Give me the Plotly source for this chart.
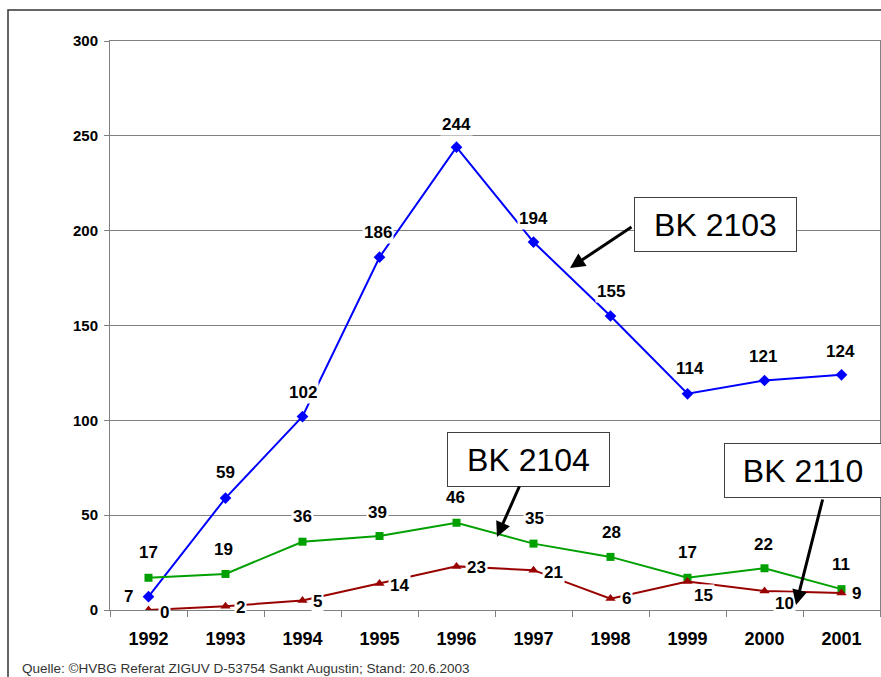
import plotly.graph_objects as go

# Berufskrankheiten-Faelle je Jahr
years = ["1992", "1993", "1994", "1995", "1996", "1997", "1998", "1999", "2000", "2001"]
bk2103 = [7, 59, 102, 186, 244, 194, 155, 114, 121, 124]
bk2104 = [17, 19, 36, 39, 46, 35, 28, 17, 22, 11]
bk2110 = [0, 2, 5, 14, 23, 21, 6, 15, 10, 9]
y_ticks = [0, 50, 100, 150, 200, 250, 300]

# label offsets (pixels) for the data labels
off_2103 = [(-20, 0), (0, 26), (0, 24), (-2, 25), (0, 23), (0, 24), (0, 25), (2, 25), (-2, 24), (-1, 23)]
off_2104 = [(0, 25), (-2, 24), (0, 25), (-2, 24), (-1, 25), (1, 25), (1, 24), (0, 25), (-1, 24), (-1, 25)]
off_2110 = [(16, -2), (15, -1), (15, -1), (20, -2), (20, -1), (20, -2), (16, 0), (16, -14), (20, -12), (15, -1)]

W, H = 881, 677
L, R, T, B = 110, 1, 41, 67
PW, PH = W - L - R, H - T - B

def px(x):
    return (x - L) / PW

def py(y):
    return (H - B - y) / PH

FONT = "Arial, Liberation Sans, sans-serif"

fig = go.Figure()
fig.add_trace(go.Scatter(x=years, y=bk2103, mode="lines+markers", name="BK 2103",
                         line=dict(color="#0000ff", width=2),
                         marker=dict(symbol="diamond", size=9, color="#0000ff")))
fig.add_trace(go.Scatter(x=years, y=bk2104, mode="lines+markers", name="BK 2104",
                         line=dict(color="#00a000", width=2),
                         marker=dict(symbol="square", size=8, color="#00a000")))
fig.add_trace(go.Scatter(x=years, y=bk2110, mode="lines+markers", name="BK 2110",
                         line=dict(color="#990000", width=2),
                         marker=dict(symbol="triangle-up", size=9, color="#990000")))

annotations = []
for vals, offs in [(bk2103, off_2103), (bk2104, off_2104), (bk2110, off_2110)]:
    for i, (v, (dx, dy)) in enumerate(zip(vals, offs)):
        # category axis: position by category index
        annotations.append(dict(x=i, y=v, xref="x", yref="y", text=str(v), showarrow=False,
                                xanchor="center", yanchor="middle",
                                xshift=dx, yshift=dy, bgcolor="white", borderpad=1,
                                font=dict(family=FONT, size=17, color="black", weight="bold")))

# label boxes: (text, centre x, centre y, width)
boxes = [("BK 2103", 715, 224, 163), ("BK 2104", 528, 459, 163), ("BK 2110", 803, 470, 158)]
for txt, cx, cy, w in boxes:
    annotations.append(dict(x=px(cx), y=py(cy), xref="paper", yref="paper", text=txt,
                            xanchor="center", yanchor="middle",
                            showarrow=False, width=w - 2, height=53, borderpad=0,
                            bgcolor="white", bordercolor="#404040", borderwidth=1,
                            font=dict(family=FONT, size=32, color="black")))

# arrows: head (x, y) and tail offset
arrows = [(570, 268, 63, -42), (497, 537, 23, -52), (796, 605, 27, -107)]
for hx, hy, ax, ay in arrows:
    annotations.append(dict(x=px(hx), y=py(hy), xref="paper", yref="paper", text="",
                            showarrow=True, ax=ax, ay=ay, arrowhead=2, arrowsize=1,
                            arrowwidth=3, arrowcolor="black", standoff=0))

annotations.append(dict(x=px(20), y=py(668), xref="paper", yref="paper",
                        text="Quelle: ©HVBG Referat ZIGUV D-53754 Sankt Augustin; Stand: 20.6.2003",
                        showarrow=False, xanchor="left", yanchor="middle",
                        font=dict(family=FONT, size=13.5, color="#333333")))

fig.update_layout(
    width=W, height=H,
    margin=dict(l=L, r=R, t=T, b=B),
    paper_bgcolor="white", plot_bgcolor="white",
    showlegend=False,
    annotations=annotations,
    shapes=[dict(type="rect", xref="paper", yref="paper",
                 x0=px(8), x1=px(895), y0=py(700), y1=py(10),
                 line=dict(color="#333333", width=1.5), layer="below")],
)
fig.update_xaxes(type="category", range=[-0.5, 9.5], showgrid=False,
                 showline=True, linecolor="#808080", linewidth=1, mirror=True,
                 ticks="outside", tickson="boundaries", ticklen=6, tickcolor="#808080",
                 ticklabelstandoff=12,
                 tickfont=dict(family=FONT, size=18, color="black", weight="bold"))
fig.update_yaxes(range=[0, 300], tickvals=y_ticks, showgrid=True, gridcolor="#808080",
                 gridwidth=1, zeroline=False,
                 showline=True, linecolor="#808080", linewidth=1, mirror=True,
                 ticks="outside", ticklen=5, tickcolor="#808080", ticklabelstandoff=3,
                 tickfont=dict(family=FONT, size=15, color="black", weight="bold"))

fig.write_html("out.html", config={"displayModeBar": False},
               post_script="document.body.style.margin='0';document.body.style.overflow='hidden';")
